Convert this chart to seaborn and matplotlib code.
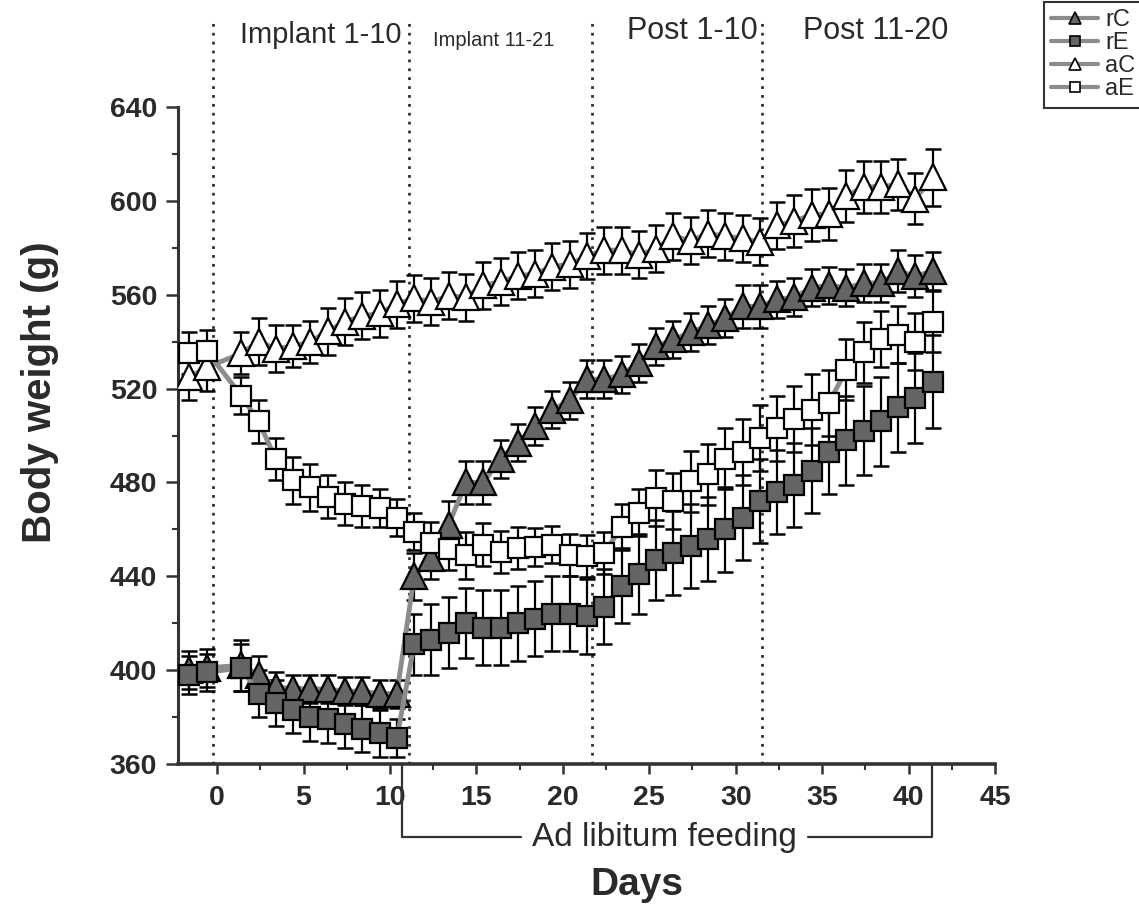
import numpy as np
import pandas as pd
import matplotlib
matplotlib.use("Agg")
import matplotlib.pyplot as plt
from matplotlib.lines import Line2D
import seaborn as sns

# ---------------- data ----------------
days = [-2, -1] + list(range(1, 42))

rC = [400, 401,
      402, 398, 393, 392, 392, 392, 391, 391, 390, 390,
      440, 448, 462, 480, 480, 490, 497, 504, 511, 515,
      524, 524, 526, 531, 538, 541, 544, 547, 550, 555,
      555, 558, 559, 563, 564, 563, 565, 565, 570, 568, 570]
rC_err = [8, 8,
          11, 8, 6, 6, 6, 6, 6, 6, 6, 6,
          10, 9, 10, 9, 9, 8, 8, 8, 8, 8,
          8, 8, 8, 8, 8, 8, 8, 8, 8, 9,
          9, 8, 8, 8, 8, 8, 8, 8, 9, 9, 8]

rE = [398, 399,
      401, 390, 386, 383, 380, 379, 377, 375, 373, 371,
      411, 413, 416, 420, 418, 418, 420, 422, 424, 424,
      423, 427, 436, 441, 447, 450, 453, 456, 460, 465,
      472, 476, 479, 485, 493, 498, 502, 506, 512, 516, 523]
rE_err = [8, 8,
          10, 10, 10, 10, 10, 10, 10, 10, 10, 8,
          13, 15, 15, 15, 16, 16, 16, 16, 16, 16,
          16, 16, 16, 17, 17, 18, 18, 18, 18, 18,
          18, 18, 18, 18, 18, 19, 19, 19, 19, 19, 20]

aC = [525, 529,
      535, 540, 537, 538, 540, 544.5, 548.5, 551, 552, 556,
      558.5, 557, 559.5, 559, 564, 565.5, 568, 569, 572, 573,
      576.5, 579, 579, 577, 579.5, 585, 583, 586, 585, 584,
      582.5, 589.5, 591.5, 594, 594.5, 602, 606, 606, 607, 601, 610]
aC_err = [10, 10,
          9, 10, 10, 9, 9, 10, 10, 10, 10, 10,
          10, 10, 10, 10, 10, 10, 10, 10, 10, 10,
          10, 10, 10, 10, 10, 10, 10, 10, 10, 10,
          10, 10, 11, 11, 11, 11, 11, 11, 11, 11, 12]

aE = [535, 536,
      517, 506, 490, 481, 478, 474, 471, 470, 469, 465,
      459, 454, 451.5, 449, 453.5, 450.5, 452, 452.5, 453.5, 449,
      448.5, 450, 461, 467, 473.5, 472, 480.5, 483.5, 490, 493,
      499, 503, 507, 511, 514, 528, 535.5, 541, 543, 540, 548.5]
aE_err = [9, 9,
          8, 9, 9, 10, 10, 9, 9, 9, 8, 8,
          8, 9, 9, 10, 9, 9, 9, 8, 8, 9,
          9, 9, 10, 10, 12, 12, 13, 13, 13, 14,
          14, 14, 14, 15, 14, 13, 13, 12, 12, 12, 13]

series_names = ["rC", "rE", "aC", "aE"]
phase_labels = ["Implant 1-10", "Implant 11-21", "Post 1-10", "Post 11-20"]
phase_bounds = [-0.23, 11.1, 21.7, 31.5]
x_ticks = [0, 5, 10, 15, 20, 25, 30, 35, 40, 45]
y_ticks = [360, 400, 440, 480, 520, 560, 600, 640]

# ---------------- style ----------------
sns.set_style("ticks")
plt.rcParams['font.family'] = ['Liberation Sans', 'DejaVu Sans']

fig = plt.figure(figsize=(11.39, 9.11), dpi=100)
ax = fig.add_axes([178 / 1139, 1 - 764 / 911, (995 - 178) / 1139, (764 - 107) / 911])

shift = 0.4
fill_dark = "#656565"
line_gray = "#8c8c8c"

styles = {
    "rC": dict(marker="^", ms=19, mfc=fill_dark),
    "rE": dict(marker="s", ms=14, mfc=fill_dark),
    "aC": dict(marker="^", ms=19, mfc="white"),
    "aE": dict(marker="s", ms=14, mfc="white"),
}
values = {"rC": (rC, rC_err), "rE": (rE, rE_err), "aC": (aC, aC_err), "aE": (aE, aE_err)}

frames = []
for name in series_names:
    v, e = values[name]
    frames.append(pd.DataFrame({"day": days, "weight": v, "err": e, "group": name}))
df = pd.concat(frames, ignore_index=True)
df["xpos"] = df["day"] + shift

for name in ["rC", "rE", "aC", "aE"]:
    sub = df[df["group"] == name]
    ax.errorbar(sub["xpos"], sub["weight"], yerr=sub["err"], fmt="none",
                ecolor="black", elinewidth=1.6, capsize=5.5, capthick=1.8, zorder=2)
    st = styles[name]
    sns.lineplot(data=sub, x="xpos", y="weight", ax=ax, color=line_gray, lw=3.5,
                 marker=st["marker"], markersize=st["ms"], markerfacecolor=st["mfc"],
                 markeredgecolor="black", markeredgewidth=1.6, zorder=3,
                 estimator=None, sort=False, legend=False)

ax.set_xlim(-2.26, 45.0)
ax.set_ylim(360, 640)
ax.set_xticks(x_ticks)
ax.set_yticks(y_ticks)
ax.set_xticks(np.arange(2.5, 45, 5), minor=True)
ax.set_yticks(np.arange(380, 640, 40), minor=True)
ax.tick_params(axis="both", which="major", labelsize=20.5, width=1.8, color="#333",
               labelcolor="#2a2a2a")
ax.tick_params(axis="x", which="major", length=7, pad=8)
ax.tick_params(axis="y", which="major", length=9, pad=6)
ax.tick_params(axis="both", which="minor", length=4, width=1.5, color="#333")
for lab in ax.get_xticklabels() + ax.get_yticklabels():
    lab.set_fontweight("bold")
sns.despine(ax=ax)
ax.spines["left"].set_linewidth(2.2)
ax.spines["bottom"].set_linewidth(2.6)
ax.spines["left"].set_color("#333")
ax.spines["bottom"].set_color("#333")
ax.set_xlabel("")
ax.set_ylabel("")

# phase separators and labels
for xb in phase_bounds:
    ax.plot([xb, xb], [360, 678], ls=(0, (1, 2.2)), lw=2, color="#333",
            clip_on=False, zorder=1)
phase_x = [6.0, 16.0, 27.5, 38.1]
phase_y = [670.7, 668.5, 672.4, 672.4]
phase_fs = [21, 14.5, 22, 22]
for lab, xp, yp, fs in zip(phase_labels, phase_x, phase_y, phase_fs):
    ax.text(xp, yp, lab, ha="center", va="center", fontsize=fs, color="#2a2a2a",
            clip_on=False)

# ad libitum bracket
yb = 328.8
bkw = dict(color="#333", lw=1.6, clip_on=False, zorder=1)
ax.plot([10.7, 10.7, 17.6], [360, yb, yb], **bkw)
ax.plot([34.2, 41.35, 41.35], [yb, yb, 360], **bkw)
ax.text(25.9, yb, "Ad libitum feeding", ha="center", va="center", fontsize=24,
        color="#2a2a2a", clip_on=False)

# axis titles
fig.text(40 / 1139, 1 - 392 / 911, "Body weight (g)", rotation=90, ha="center",
         va="center", fontsize=29, fontweight="bold", color="#2a2a2a")
fig.text(637 / 1139, 1 - 885 / 911, "Days", ha="center", va="center",
         fontsize=28, fontweight="bold", color="#2a2a2a")

# legend
handles = []
for name in series_names:
    st = styles[name]
    handles.append(Line2D([0], [0], color=line_gray, lw=3, marker=st["marker"],
                          markersize=9 if st["marker"] == "^" else 7.5,
                          markerfacecolor=st["mfc"], markeredgecolor="black",
                          markeredgewidth=1.2))
leg = fig.legend(handles, series_names, loc="upper right", bbox_to_anchor=(1.003, 0.998),
                 frameon=True, fancybox=False, edgecolor="black", fontsize=17,
                 handlelength=2.0, handletextpad=0.3, labelspacing=0.05,
                 borderpad=0.3, borderaxespad=0)
leg.get_frame().set_linewidth(1.5)
for t in leg.get_texts():
    t.set_color("#2a2a2a")

fig.savefig("out.png", dpi=100)
